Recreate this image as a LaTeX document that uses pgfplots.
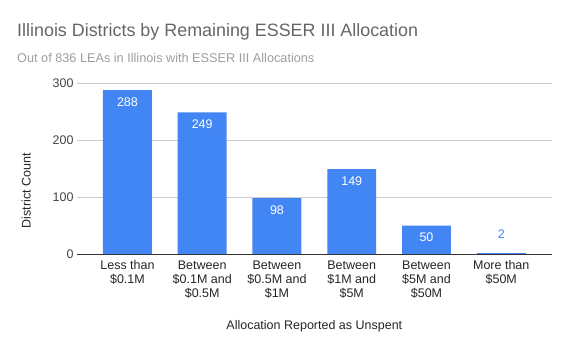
\documentclass[border=0pt]{standalone}
\usepackage{pgfplots}
\pgfplotsset{compat=1.18}
\usepackage{fontspec}
\setmainfont{Liberation Sans}
\definecolor{barblue}{HTML}{4285F4}
\definecolor{titlegray}{HTML}{666666}
\definecolor{subgray}{HTML}{9E9E9E}
\definecolor{tickgray}{HTML}{444444}
\definecolor{gridgray}{HTML}{CCCCCC}
\begin{document}
\begin{tikzpicture}[x=1pt,y=1pt]
\path[use as bounding box] (0,0) rectangle (569,352);
\node[anchor=base west, text=titlegray, font=\fontsize{17.9}{21}\selectfont, inner sep=0pt] at (17,315.3) {Illinois Districts by Remaining ESSER III Allocation};
\node[anchor=base west, text=subgray, font=\fontsize{12.7}{15}\selectfont, inner sep=0pt] at (17,289.3) {Out of 836 LEAs in Illinois with ESSER III Allocations};
\begin{axis}[
  at={(77pt,98pt)}, anchor=south west,
  scale only axis, width=474.7pt, height=170.7pt,
  xmin=-0.675, xmax=5.675, ymin=0, ymax=300,
  ytick={0,100,200,300},
  xtick={0,1,2,3,4,5},
  xticklabels={{Less than\\\$0.1M},{Between\\\$0.1M and\\\$0.5M},{Between\\\$0.5M and\\\$1M},{Between\\\$1M and\\\$5M},{Between\\\$5M and\\\$50M},{More than\\\$50M}},
  /pgf/number format/assume math mode=true,
  axis line style={draw=none},
  axis x line*=bottom,
  ymajorgrids, grid style={gridgray, line width=0.8pt},
  major tick length=0pt,
  tick style={draw=none},
  yticklabel style={font=\fontsize{12.5}{14}\selectfont, text=tickgray},
  xticklabel style={font=\fontsize{12.5}{14.3}\selectfont, text=black!85, align=center, yshift=-3pt},
  xlabel={Allocation Reported as Unspent},
  ylabel={District Count},
  xlabel style={font=\fontsize{12.5}{14}\selectfont, text=black!85, at={(axis description cs:0.5,-0.426)}, anchor=center},
  ylabel style={font=\fontsize{12.5}{14}\selectfont, text=black!85, at={(axis description cs:-0.107,0.37)}, anchor=center},
  clip=false,
]
\addplot[ybar, bar width=0.655, bar shift=0pt, fill=barblue, draw=none,
  nodes near coords, every node near coord/.append style={anchor=north, yshift=-4pt, text=white, font=\fontsize{12.5}{14}\selectfont}]
  coordinates {(0,288) (1,249) (2,98) (3,149) (4,50)};
\addplot[ybar, bar width=0.655, bar shift=0pt, fill=barblue, draw=none,
  nodes near coords, every node near coord/.append style={anchor=south, yshift=11pt, text=barblue, font=\fontsize{12.5}{14}\selectfont}]
  coordinates {(5,2)};
\draw[black!80, line width=0.8pt] (axis cs:-0.675,0) -- (axis cs:5.675,0);
\end{axis}
\end{tikzpicture}
\end{document}
